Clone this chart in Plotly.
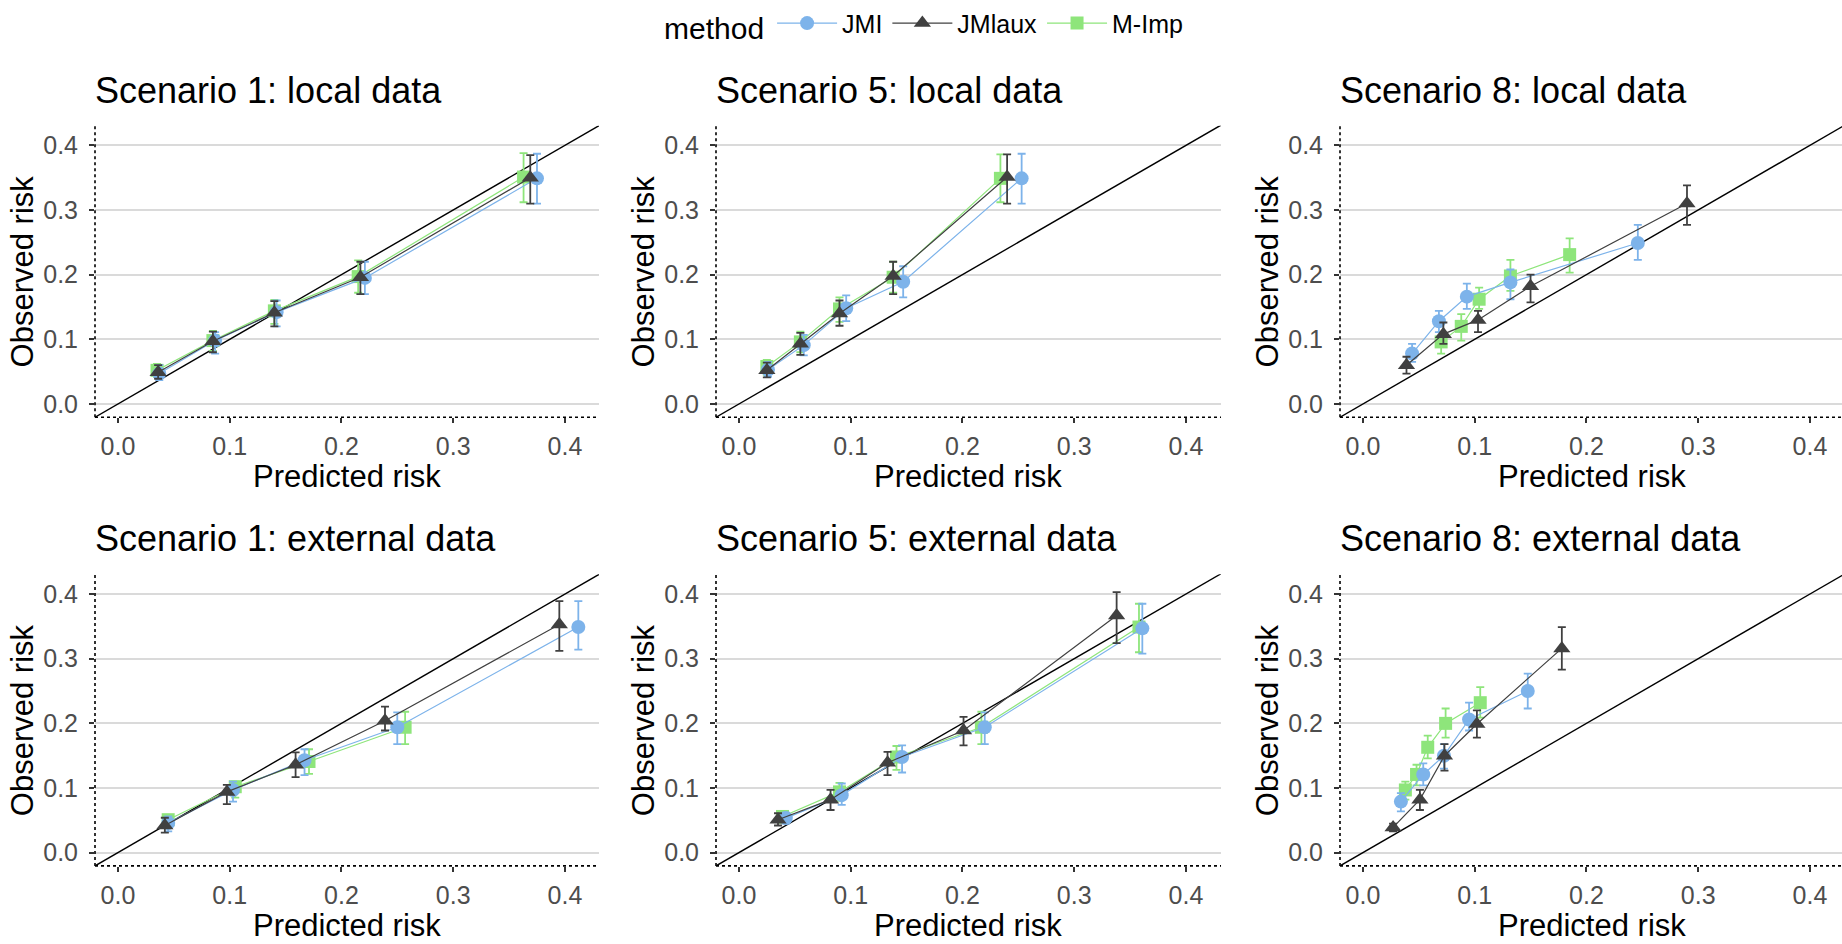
import plotly.graph_objects as go

W, H = 1842, 944

panels = ["Scenario 1: local data", "Scenario 5: local data", "Scenario 8: local data",
          "Scenario 1: external data", "Scenario 5: external data", "Scenario 8: external data"]
methods = ["JMI", "JMlaux", "M-Imp"]
x_ticks = [0.0, 0.1, 0.2, 0.3, 0.4]
y_ticks = [0.0, 0.1, 0.2, 0.3, 0.4]

# ---- JMI ----
JMI_pred = {
    "Scenario 1: local data":    [0.037, 0.087, 0.142, 0.221, 0.375],
    "Scenario 5: local data":    [0.026, 0.058, 0.096, 0.147, 0.253],
    "Scenario 8: local data":    [0.044, 0.068, 0.093, 0.132, 0.246],
    "Scenario 1: external data": [0.045, 0.103, 0.167, 0.250, 0.412],
    "Scenario 5: external data": [0.042, 0.092, 0.146, 0.220, 0.361],
    "Scenario 8: external data": [0.034, 0.054, 0.0725, 0.095, 0.1475],
}
JMI_obs = {
    "Scenario 1: local data":    [0.047, 0.098, 0.142, 0.195, 0.349],
    "Scenario 5: local data":    [0.053, 0.091, 0.148, 0.189, 0.349],
    "Scenario 8: local data":    [0.078, 0.128, 0.166, 0.188, 0.249],
    "Scenario 1: external data": [0.046, 0.097, 0.143, 0.194, 0.349],
    "Scenario 5: external data": [0.0535, 0.089, 0.148, 0.194, 0.347],
    "Scenario 8: external data": [0.079, 0.121, 0.150, 0.206, 0.250],
}
JMI_lo = {
    "Scenario 1: local data":    [0.037, 0.078, 0.120, 0.170, 0.310],
    "Scenario 5: local data":    [0.042, 0.075, 0.128, 0.165, 0.310],
    "Scenario 8: local data":    [0.065, 0.111, 0.147, 0.162, 0.223],
    "Scenario 1: external data": [0.033, 0.079, 0.120, 0.168, 0.314],
    "Scenario 5: external data": [0.045, 0.074, 0.124, 0.168, 0.308],
    "Scenario 8: external data": [0.064, 0.104, 0.130, 0.189, 0.223],
}
JMI_hi = {
    "Scenario 1: local data":    [0.060, 0.111, 0.160, 0.220, 0.387],
    "Scenario 5: local data":    [0.065, 0.107, 0.168, 0.213, 0.387],
    "Scenario 8: local data":    [0.093, 0.144, 0.186, 0.208, 0.277],
    "Scenario 1: external data": [0.056, 0.110, 0.160, 0.217, 0.389],
    "Scenario 5: external data": [0.062, 0.107, 0.166, 0.217, 0.385],
    "Scenario 8: external data": [0.092, 0.138, 0.168, 0.232, 0.277],
}

# ---- JMlaux ----
JMlaux_pred = {
    "Scenario 1: local data":    [0.036, 0.085, 0.140, 0.217, 0.369],
    "Scenario 5: local data":    [0.025, 0.055, 0.090, 0.138, 0.240],
    "Scenario 8: local data":    [0.039, 0.072, 0.103, 0.150, 0.290],
    "Scenario 1: external data": [0.042, 0.0975, 0.159, 0.239, 0.395],
    "Scenario 5: external data": [0.035, 0.082, 0.133, 0.201, 0.338],
    "Scenario 8: external data": [0.027, 0.051, 0.073, 0.102, 0.178],
}
JMlaux_obs = {
    "Scenario 1: local data":    [0.049, 0.097, 0.141, 0.196, 0.350],
    "Scenario 5: local data":    [0.052, 0.093, 0.140, 0.198, 0.351],
    "Scenario 8: local data":    [0.060, 0.108, 0.130, 0.182, 0.310],
    "Scenario 1: external data": [0.042, 0.094, 0.136, 0.204, 0.353],
    "Scenario 5: external data": [0.051, 0.082, 0.139, 0.189, 0.367],
    "Scenario 8: external data": [0.039, 0.082, 0.150, 0.199, 0.316],
}
JMlaux_lo = {
    "Scenario 1: local data":    [0.039, 0.080, 0.120, 0.170, 0.310],
    "Scenario 5: local data":    [0.041, 0.076, 0.121, 0.170, 0.310],
    "Scenario 8: local data":    [0.047, 0.093, 0.111, 0.157, 0.277],
    "Scenario 1: external data": [0.031, 0.075, 0.117, 0.189, 0.312],
    "Scenario 5: external data": [0.042, 0.066, 0.120, 0.166, 0.324],
    "Scenario 8: external data": [0.033, 0.066, 0.127, 0.178, 0.283],
}
JMlaux_hi = {
    "Scenario 1: local data":    [0.060, 0.112, 0.159, 0.220, 0.385],
    "Scenario 5: local data":    [0.064, 0.110, 0.160, 0.220, 0.386],
    "Scenario 8: local data":    [0.073, 0.126, 0.144, 0.200, 0.338],
    "Scenario 1: external data": [0.054, 0.105, 0.155, 0.226, 0.389],
    "Scenario 5: external data": [0.061, 0.097, 0.156, 0.210, 0.403],
    "Scenario 8: external data": [0.045, 0.097, 0.168, 0.220, 0.349],
}

# ---- M-Imp ----
MImp_pred = {
    "Scenario 1: local data":    [0.035, 0.085, 0.140, 0.215, 0.363],
    "Scenario 5: local data":    [0.025, 0.055, 0.090, 0.138, 0.234],
    "Scenario 8: local data":    [0.070, 0.088, 0.104, 0.132, 0.185],
    "Scenario 1: external data": [0.045, 0.105, 0.171, 0.257],
    "Scenario 5: external data": [0.039, 0.090, 0.141, 0.217, 0.358],
    "Scenario 8: external data": [0.038, 0.048, 0.058, 0.074, 0.105],
}
MImp_obs = {
    "Scenario 1: local data":    [0.052, 0.098, 0.144, 0.197, 0.351],
    "Scenario 5: local data":    [0.058, 0.096, 0.147, 0.196, 0.349],
    "Scenario 8: local data":    [0.096, 0.120, 0.162, 0.198, 0.231],
    "Scenario 1: external data": [0.051, 0.102, 0.141, 0.194],
    "Scenario 5: external data": [0.056, 0.094, 0.148, 0.194, 0.349],
    "Scenario 8: external data": [0.097, 0.121, 0.163, 0.200, 0.232],
}
MImp_lo = {
    "Scenario 1: local data":    [0.042, 0.082, 0.124, 0.172, 0.312],
    "Scenario 5: local data":    [0.045, 0.080, 0.127, 0.172, 0.312],
    "Scenario 8: local data":    [0.078, 0.098, 0.147, 0.175, 0.203],
    "Scenario 1: external data": [0.038, 0.085, 0.122, 0.168],
    "Scenario 5: external data": [0.046, 0.080, 0.128, 0.168, 0.310],
    "Scenario 8: external data": [0.082, 0.104, 0.146, 0.178, 0.209],
}
MImp_hi = {
    "Scenario 1: local data":    [0.062, 0.113, 0.161, 0.222, 0.388],
    "Scenario 5: local data":    [0.068, 0.112, 0.165, 0.220, 0.386],
    "Scenario 8: local data":    [0.111, 0.139, 0.180, 0.223, 0.256],
    "Scenario 1: external data": [0.055, 0.110, 0.160, 0.218],
    "Scenario 5: external data": [0.064, 0.108, 0.165, 0.218, 0.385],
    "Scenario 8: external data": [0.110, 0.136, 0.181, 0.223, 0.256],
}

series = {
    "JMI":    (JMI_pred, JMI_obs, JMI_lo, JMI_hi),
    "JMlaux": (JMlaux_pred, JMlaux_obs, JMlaux_lo, JMlaux_hi),
    "M-Imp":  (MImp_pred, MImp_obs, MImp_lo, MImp_hi),
}
colors = {"JMI": "#7DB3EA", "JMlaux": "#404040", "M-Imp": "#8EE57B"}
symbols = {"JMI": "circle", "JMlaux": "triangle-up", "M-Imp": "square"}
msize = {"JMI": 14, "JMlaux": 15, "M-Imp": 13}
rank = {"JMI": 1, "JMlaux": 2, "M-Imp": 3}
draw_order = ["M-Imp", "JMI", "JMlaux"]

# layout geometry (pixels)
col_px = [(95, 599), (716, 1221), (1340, 1842)]
row_px = [(116, 411), (570, 865)]
full_w = 504.0
lo_lim, hi_lim = -0.0205, 0.4305
FONT = "Liberation Sans, Arial, sans-serif"

fig = go.Figure()
annotations = []
shapes = []

for i, p in enumerate(panels):
    r, c = divmod(i, 3)
    ax = "" if i == 0 else str(i + 1)
    xa, ya = "x" + ax, "y" + ax
    x0, x1 = col_px[c]
    t0, t1 = row_px[r]
    xr_hi = lo_lim + (hi_lim - lo_lim) * (x1 - x0) / full_w

    # reference diagonal
    fig.add_trace(go.Scatter(x=[-0.1, 0.6], y=[-0.1, 0.6], mode="lines",
                             line=dict(color="black", width=1.4),
                             showlegend=False, hoverinfo="skip", xaxis=xa, yaxis=ya))
    for m in draw_order:
        pr, ob, lo, hi = series[m]
        xs, ys = pr[p], ob[p]
        plus = [h - y for h, y in zip(hi[p], ys)]
        minus = [y - l for l, y in zip(lo[p], ys)]
        fig.add_trace(go.Scatter(
            x=xs, y=ys, mode="lines+markers", name=m, legendgroup=m,
            legendrank=rank[m], showlegend=(i == 0),
            line=dict(color=colors[m], width=1.2),
            marker=dict(symbol=symbols[m], size=msize[m], color=colors[m]),
            error_y=dict(type="data", array=plus, arrayminus=minus, symmetric=False,
                         color=colors[m], thickness=1.8, width=4),
            xaxis=xa, yaxis=ya, cliponaxis=False))

    axis_common = dict(showline=False, zeroline=False, ticks="outside", ticklen=5,
                       tickwidth=1.5, tickcolor="#333333",
                       tickfont=dict(family=FONT, size=25, color="#4D4D4D"),
                       tickformat=".1f")
    fig.layout["xaxis" + ax] = dict(
        domain=[x0 / W, x1 / W], range=[lo_lim, xr_hi], anchor=ya,
        tickvals=x_ticks, showgrid=False, ticklabelstandoff=2, **axis_common)
    fig.layout["yaxis" + ax] = dict(
        domain=[1 - t1 / H, 1 - t0 / H], range=[lo_lim, hi_lim], anchor=xa,
        tickvals=y_ticks, showgrid=True, gridcolor="#DADADA", gridwidth=1.6,
        ticklabelstandoff=6, **axis_common)

    # dotted axis lines
    shapes.append(dict(type="line", xref=xa + " domain", yref=ya + " domain",
                       x0=0, x1=0, y0=0, y1=1, line=dict(color="black", width=1.6, dash="dot")))
    shapes.append(dict(type="line", xref=xa + " domain", yref=ya + " domain",
                       x0=0, x1=1, y0=0, y1=0, line=dict(color="black", width=1.6, dash="dot")))

    # panel title
    annotations.append(dict(text=p, x=(x0 - 2) / W, y=1 - (t0 - 36) / H, xref="paper", yref="paper",
                            xanchor="left", yanchor="middle", showarrow=False,
                            font=dict(family=FONT, size=36, color="black")))
    # axis titles
    xt_bottom = min(t1 + 79, H)
    annotations.append(dict(text="Predicted risk", x=(x0 + x0 + full_w) / 2 / W,
                            y=1 - xt_bottom / H, xref="paper", yref="paper",
                            xanchor="center", yanchor="bottom", showarrow=False, borderpad=0,
                            font=dict(family=FONT, size=31, color="black")))
    annotations.append(dict(text="Observed risk", x=(x0 - 73) / W, y=1 - (t0 + t1) / 2 / H,
                            xref="paper", yref="paper", textangle=-90,
                            xanchor="center", yanchor="middle", showarrow=False,
                            font=dict(family=FONT, size=31, color="black")))

fig.update_layout(
    width=W, height=H, margin=dict(l=0, r=0, t=0, b=0),
    paper_bgcolor="white", plot_bgcolor="white",
    annotations=annotations, shapes=shapes,
    legend=dict(orientation="h", x=662 / W, xanchor="left", y=1 - 14 / H, yanchor="middle",
                title=dict(text="method", side="left", font=dict(family=FONT, size=30, color="black")),
                font=dict(family=FONT, size=25, color="black"),
                itemwidth=60, tracegroupgap=0, bgcolor="rgba(0,0,0,0)"),
)

fig.write_html(
    "out.html",
    config={"displayModeBar": False},
    post_script="document.body.style.margin='0';document.body.style.padding='0';"
                "document.body.style.overflow='hidden';"
                "document.documentElement.style.overflow='hidden';",
)
